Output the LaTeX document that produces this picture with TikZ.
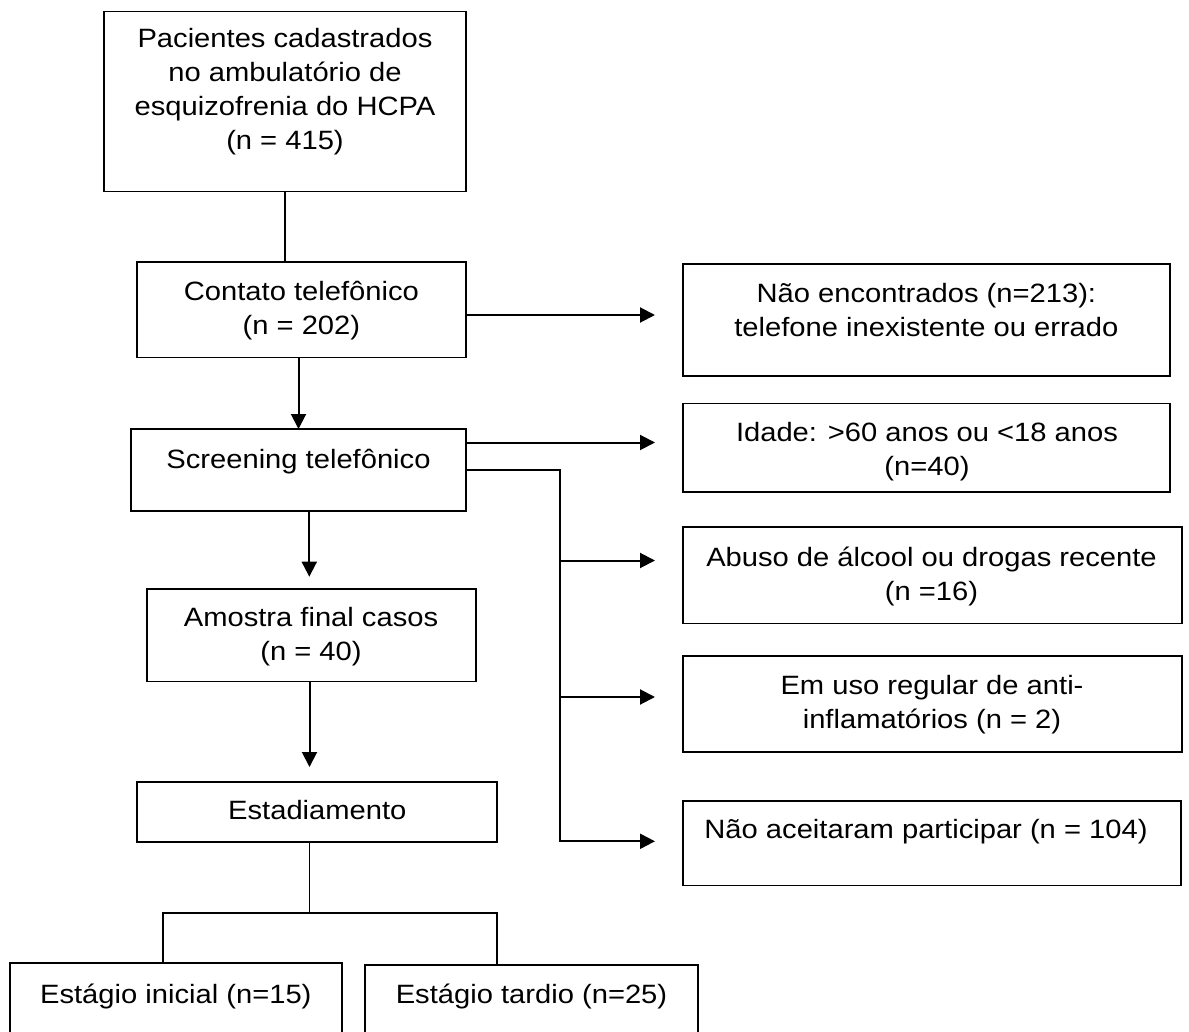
\documentclass[tikz,border=0pt]{standalone}
\usepackage{fontspec}
\setmainfont{Liberation Sans}[FakeStretch=1.1]
\usetikzlibrary{arrows.meta}
\begin{document}
\begin{tikzpicture}[x=1pt,y=-1pt,
  box/.style={draw=black,line width=1.8pt,rectangle,inner sep=0pt,outer sep=0pt,anchor=north west},
  lbl/.style={inner sep=0pt,outer sep=0pt,anchor=base,font=\fontsize{26.5}{34}\selectfont},
  conn/.style={line width=1.6pt},
  arr/.style={line width=2pt,-{Triangle[length=15pt,width=15pt]}}]
\useasboundingbox[fill=white] (0,0) rectangle (1189,1032);
% boxes
\node[box,minimum width=362pt,minimum height=180pt] (top) at (104,11.5) {};
\node[box,minimum width=329.4pt,minimum height=95.5pt] (contato) at (136.6,262) {};
\node[box,minimum width=335pt,minimum height=82pt] (screen) at (131,429) {};
\node[box,minimum width=329pt,minimum height=92.5pt] (amostra) at (146.6,589) {};
\node[box,minimum width=360pt,minimum height=60pt] (estad) at (136.6,781.6) {};
\node[box,minimum width=332.4pt,minimum height=100pt] (ini) at (9.6,963) {};
\node[box,minimum width=332.4pt,minimum height=100pt] (tar) at (365.3,965.3) {};
\node[box,minimum width=487pt,minimum height=112pt] (naoenc) at (683,263.7) {};
\node[box,minimum width=487pt,minimum height=88.4pt] (idade) at (683,403.4) {};
\node[box,minimum width=498.6pt,minimum height=96.5pt] (abuso) at (683,527) {};
\node[box,minimum width=498.6pt,minimum height=96.4pt] (emuso) at (683,655.6) {};
\node[box,minimum width=498pt,minimum height=84.8pt] (naoac) at (683,800.7) {};
% texts
\node[lbl] (ttop) at (285,47.4) {\begin{tabular}[t]{@{}c@{}}Pacientes cadastrados\\no ambulatório de\\esquizofrenia do HCPA\\(n = 415)\end{tabular}};
\node[lbl] (tcontato) at (301.4,300.2) {\begin{tabular}[t]{@{}c@{}}Contato telefônico\\(n = 202)\end{tabular}};
\node[lbl] (tscreen) at (298.5,468) {Screening telefônico};
\node[lbl] (tamostra) at (311,626.6) {\begin{tabular}[t]{@{}c@{}}Amostra final casos\\(n = 40)\end{tabular}};
\node[lbl] (testad) at (317.3,819.6) {Estadiamento};
\node[lbl] (tini) at (175.8,1003.7) {Estágio inicial (n=15)};
\node[lbl] (ttar) at (531.5,1003.7) {Estágio tardio (n=25)};
\node[lbl] (tnaoenc) at (926.4,302.4) {\begin{tabular}[t]{@{}c@{}}Não encontrados (n=213):\\telefone inexistente ou errado\end{tabular}};
\node[lbl] (tidade) at (927,441.7) {\begin{tabular}[t]{@{}c@{}}Idade: >60 anos ou <18 anos\\(n=40)\end{tabular}};
\node[lbl] (tabuso) at (931.5,566) {\begin{tabular}[t]{@{}c@{}}Abuso de álcool ou drogas recente\\(n =16)\end{tabular}};
\node[lbl] (temuso) at (932,694.3) {\begin{tabular}[t]{@{}c@{}}Em uso regular de anti-\\inflamatórios (n = 2)\end{tabular}};
\node[lbl] (tnaoac) at (926,838.3) {Não aceitaram participar (n = 104)};
% helper coordinates
\coordinate (c1) at (309.3,576.7);
\coordinate (c2) at (309.5,767);
\coordinate (split) at (309.3,912.7);
\coordinate (vx) at (559.5,470);
\coordinate (e1) at (655,315);
\coordinate (e2) at (655,442.5);
\coordinate (e3) at (655,560.5);
\coordinate (e4) at (655,697);
\coordinate (e5) at (655,841.3);
% connectors
\draw[conn] (top.south) -- (top.south |- contato.north);
\draw[arr] (297.3,357.5 -| screen.north) -- (screen.north);
\draw[arr] (screen.south -| c1) -- (c1);
\draw[arr] (amostra.south -| c2) -- (c2);
\draw[conn] (estad.south -| split) -- (split);
\draw[conn] (ini.north -| 163,0) -- (163,912.7) -- (496.7,912.7) -- (tar.north -| 496.7,0);
\draw[arr] (contato.east |- e1) -- (e1);
\draw[arr] (screen.east |- e2) -- (e2);
\draw[arr] (screen.east |- vx) -- (vx) -- (vx |- e5) -- (e5);
\draw[arr] (vx |- e3) -- (e3);
\draw[arr] (vx |- e4) -- (e4);
\end{tikzpicture}
\end{document}
